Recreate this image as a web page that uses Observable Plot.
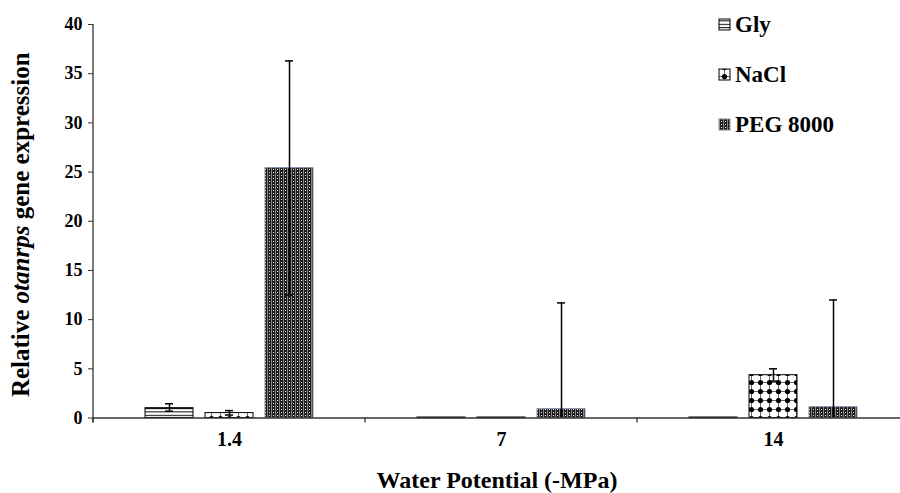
<!DOCTYPE html>
<html><head><meta charset="utf-8">
<script src="https://cdn.jsdelivr.net/npm/d3@7"></script>
<script src="https://cdn.jsdelivr.net/npm/@observablehq/plot@0.6"></script>
<style>
html,body{margin:0;padding:0;background:#fff;overflow:hidden;}
#chart svg{display:block;}
</style></head><body>
<svg width="0" height="0" style="position:absolute">
<defs>
<pattern id="pGly" patternUnits="userSpaceOnUse" width="6" height="3.4">
 <rect width="6" height="3.4" fill="#fff"/>
 <rect y="0" width="6" height="1" fill="#000"/>
</pattern>
<pattern id="pNaCl" patternUnits="userSpaceOnUse" width="9" height="9">
 <rect width="9" height="9" fill="#fff"/>
 <path d="M4.5 0V9M0 4.5H9" stroke="#000" stroke-width="0.6"/>
 <circle cx="4.5" cy="4.5" r="2.6" fill="#000"/>
</pattern>
<pattern id="pPeg" patternUnits="userSpaceOnUse" width="4" height="3">
 <rect width="4" height="3" fill="#1c1c1c"/>
 <rect x="1" y="1" width="1" height="1" fill="#eee"/>
 <rect x="3" y="0" width="1" height="3" fill="#888"/>
</pattern>
</defs></svg>
<div id="chart"></div>
<script>
const groups = ["1.4", "7", "14"];
const series = ["Gly", "NaCl", "PEG 8000"];
const glyValues = [1.0, 0.05, 0.05];
const glyErrUp = [0.45, 0, 0];
const glyErrDown = [0.3, 0, 0];
const naclValues = [0.5, 0.05, 4.35];
const naclErrUp = [0.25, 0, 0.65];
const naclErrDown = [0.2, 0, 0.6];
const pegValues = [25.4, 0.9, 1.1];
const pegErrUp = [10.9, 10.8, 10.9];
const pegErrDown = [12.9, 0.9, 1.1];
const yTicks = [0, 5, 10, 15, 20, 25, 30, 35, 40];

const styles = {
  "Gly": {fill: "url(#pGly)", stroke: "#000"},
  "NaCl": {fill: "url(#pNaCl)", stroke: "#000"},
  "PEG 8000": {fill: "url(#pPeg)", stroke: "#8090a8"}
};

function rows(name, vals, up, down) {
  return groups.map((g, i) => ({
    group: g, series: name, value: vals[i],
    hi: vals[i] + up[i], lo: Math.max(0, vals[i] - down[i])
  }));
}
const data = [
  rows("Gly", glyValues, glyErrUp, glyErrDown),
  rows("NaCl", naclValues, naclErrUp, naclErrDown),
  rows("PEG 8000", pegValues, pegErrUp, pegErrDown)
];

const step = 60, barW = 48;
const marks = [];
data.forEach((rs, k) => {
  const s = series[k];
  const dx = (k - 1) * step;
  const inset = (272 - barW) / 2;
  marks.push(Plot.barY(rs, {x: "group", y: "value", fill: styles[s].fill, stroke: styles[s].stroke, strokeWidth: 1, insetLeft: inset, insetRight: inset, dx}));
  const withErr = rs.filter(d => d.hi > d.value);
  marks.push(Plot.ruleX(withErr, {x: "group", y1: "lo", y2: "hi", stroke: "#000", strokeWidth: 1.5, dx}));
  marks.push(Plot.tickY(withErr, {x: "group", y: "hi", stroke: "#000", strokeWidth: 1.5, insetLeft: 132, insetRight: 132, dx}));
  marks.push(Plot.tickY(withErr.filter(d => d.lo > 0), {x: "group", y: "lo", stroke: "#000", strokeWidth: 1.5, insetLeft: 132, insetRight: 132, dx}));
});

const chart = Plot.plot({
  width: 900, height: 493,
  marginLeft: 93, marginRight: -9, marginTop: 24, marginBottom: 75.5,
  style: {fontFamily: "'Liberation Serif', 'DejaVu Serif', serif", color: "#000", background: "#fff"},
  x: {domain: groups, padding: 0, axis: null},
  y: {domain: [0, 40], axis: null},
  marks: [
    ...marks,
    Plot.ruleY([0], {stroke: "#333", strokeWidth: 1.3}),
    Plot.axisY({ticks: yTicks, tickSize: 5, tickPadding: 6, fontSize: 18, fontWeight: "bold", label: null, stroke: "#333"}),
    Plot.axisX({tickSize: 0, tickPadding: 14, fontSize: 20, fontWeight: "bold", label: null})
  ]
});
document.getElementById("chart").appendChild(chart);

const svg = d3.select(chart);
const xs = chart.scale("x"), ys = chart.scale("y");
const y0 = ys.apply(0);
const bounds = groups.map(g => xs.apply(g)).concat([xs.apply(groups[groups.length - 1]) + xs.bandwidth]);
const g = svg.append("g").attr("stroke", "#333").attr("stroke-width", 1.3);
bounds.forEach(b => g.append("line").attr("x1", b).attr("x2", b).attr("y1", y0).attr("y2", y0 + 5));
g.append("line").attr("x1", bounds[0]).attr("x2", bounds[0]).attr("y1", ys.apply(40)).attr("y2", y0 + 5);

// legend
const leg = svg.append("g").attr("font-family", "'Liberation Serif', serif").attr("font-weight", "bold")
  .attr("font-size", 23).attr("text-anchor", "start");
series.forEach((s, i) => {
  const by = 32 + i * 50;
  leg.append("rect").attr("x", 719).attr("y", by - 13).attr("width", 11).attr("height", 11)
    .attr("fill", styles[s].fill).attr("stroke", i === 2 ? "#8090a8" : "#000").attr("stroke-width", 1);
  leg.append("text").attr("x", 735).attr("y", by).text(s);
});

// axis titles
const yt = svg.append("text").attr("transform", `translate(29,${(ys.apply(0) + ys.apply(40)) / 2 + 4}) rotate(-90)`)
  .attr("text-anchor", "middle").attr("font-family", "'Liberation Serif', serif").attr("font-weight", "bold").attr("font-size", 25);
yt.append("tspan").text("Relative ");
yt.append("tspan").attr("font-style", "italic").text("otanrps");
yt.append("tspan").text(" gene expression");

svg.append("text").attr("x", (bounds[0] + bounds[3]) / 2 - 4).attr("y", 488).attr("text-anchor", "middle")
  .attr("font-family", "'Liberation Serif', serif").attr("font-weight", "bold").attr("font-size", 24)
  .text("Water Potential (-MPa)");
</script>
</body></html>
